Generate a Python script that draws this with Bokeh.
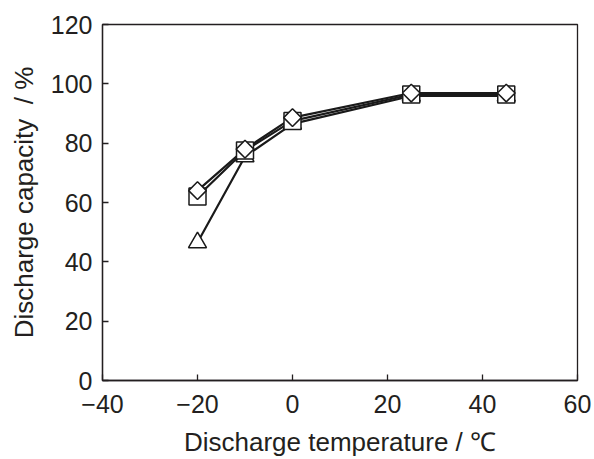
import math
from bokeh.plotting import figure
from bokeh.models import FixedTicker, ColumnDataSource
from bokeh.embed import file_html
from bokeh.resources import INLINE

temps = [-20, -10, 0, 25, 45]
cap_square = [62.0, 77.5, 87.5, 96.4, 96.4]
cap_diamond = [64.0, 78.0, 88.6, 96.9, 96.9]
cap_triangle = [46.5, 75.5, 86.5, 95.9, 95.9]

x_ticks = [-40, -20, 0, 20, 40, 60]
y_ticks = [0, 20, 40, 60, 80, 100, 120]
x_tick_labels = {-40: "\u221240", -20: "\u221220", 0: "0", 20: "20", 40: "40", 60: "60"}
x_title = "Discharge temperature / \u2103"
y_title = "Discharge capacity\u00a0 / %"

FONT = "Liberation Sans"
TXT = "#231F20"

p = figure(width=594, height=459, x_range=(-40, 60), y_range=(0, 120),
           output_backend="svg", toolbar_location=None,
           min_border_left=102, min_border_right=17, min_border_top=24, min_border_bottom=78)
p.background_fill_color = "white"
p.border_fill_color = "white"
p.grid.visible = False
p.outline_line_color = TXT
p.outline_line_width = 1.3

for ax in (p.xaxis[0], p.yaxis[0]):
    ax.axis_line_color = TXT
    ax.axis_line_width = 1.3
    ax.major_tick_in = 6
    ax.major_tick_out = 0
    ax.minor_tick_in = 0
    ax.minor_tick_out = 0
    ax.major_tick_line_color = TXT
    ax.major_tick_line_width = 1.3
    ax.major_label_text_font = FONT
    ax.major_label_text_font_size = "25px"
    ax.major_label_text_color = TXT
    ax.axis_label_text_font = FONT
    ax.axis_label_text_font_size = "26px"
    ax.axis_label_text_font_style = "normal"
    ax.axis_label_text_color = TXT

p.xaxis.ticker = FixedTicker(ticks=x_ticks)
p.yaxis.ticker = FixedTicker(ticks=y_ticks)
p.xaxis.major_label_overrides = x_tick_labels
p.xaxis.major_label_standoff = 14
p.yaxis.major_label_standoff = 10
p.xaxis.axis_label = x_title
p.yaxis.axis_label = y_title
p.xaxis.axis_label_standoff = 11
p.yaxis.axis_label_standoff = 9

src = ColumnDataSource(dict(t=temps, sq=cap_square, di=cap_diamond, tr=cap_triangle))

for col in ("tr", "sq", "di"):
    p.line("t", col, source=src, line_color="#1a1a1a", line_width=2.2)

p.scatter("t", "tr", source=src, marker="triangle", size=18,
          fill_color="white", line_color="#1a1a1a", line_width=1.5)
p.scatter("t", "sq", source=src, marker="square", size=17,
          fill_color="white", line_color="#1a1a1a", line_width=1.5)
p.scatter("t", "di", source=src, marker="square", size=12.5, angle=math.pi / 4,
          fill_color="white", line_color="#1a1a1a", line_width=1.5)

open("out.html", "w").write(file_html(p, INLINE))
